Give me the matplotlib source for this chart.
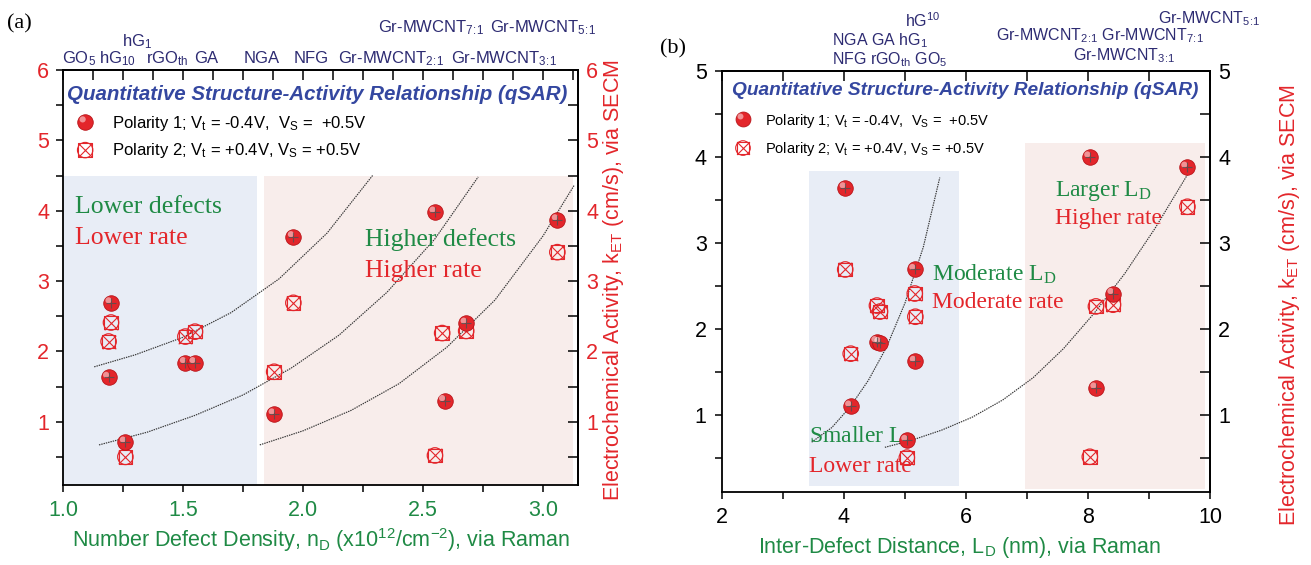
import numpy as np
import matplotlib
matplotlib.use("Agg")
import matplotlib.pyplot as plt
from matplotlib.transforms import ScaledTranslation
from matplotlib.ticker import MultipleLocator, FixedLocator

plt.rcParams['font.family'] = ['Liberation Sans', 'DejaVu Sans']
plt.rcParams['mathtext.default'] = 'regular'

RED = '#e3262b'
GREEN = '#1f8a45'
TITLE_BLUE = '#3447a0'
NAVY = '#2d2b72'
FIT_GRAY = '#363636'
BLUE_BG = '#e8edf6'
PINK_BG = '#f8edeb'
SERIF = ['Liberation Serif', 'DejaVu Serif']

# ---------------- data: panel (a), defect density ----------------
nd_pol1 = [1.19, 1.20, 1.26, 1.51, 1.55, 1.96, 1.88, 2.55, 2.59, 2.68, 3.06]
ket_a_pol1 = [1.63, 2.69, 0.71, 1.84, 1.84, 3.63, 1.11, 3.98, 1.30, 2.40, 3.87]
nd_pol2 = [1.20, 1.19, 1.26, 1.51, 1.55, 1.96, 1.88, 2.55, 2.58, 2.68, 3.06]
ket_a_pol2 = [2.41, 2.14, 0.50, 2.21, 2.28, 2.69, 1.71, 0.52, 2.26, 2.29, 3.41]

# exponential-growth fit curves, panel (a)
fit_a1_x = [1.13, 1.30, 1.50, 1.70, 1.90, 2.10, 2.29]
fit_a1_y = [1.78, 1.95, 2.20, 2.55, 3.03, 3.68, 4.50]
fit_a2_x = [1.15, 1.35, 1.55, 1.75, 1.95, 2.15, 2.35, 2.55, 2.73]
fit_a2_y = [0.67, 0.85, 1.09, 1.38, 1.76, 2.23, 2.84, 3.60, 4.48]
fit_a3_x = [1.82, 2.00, 2.20, 2.40, 2.60, 2.80, 3.00, 3.13]
fit_a3_y = [0.67, 0.87, 1.16, 1.54, 2.06, 2.73, 3.64, 4.36]

# ---------------- data: panel (b), inter-defect distance ----------------
ld_pol1 = [4.02, 5.16, 4.54, 4.59, 5.17, 4.11, 5.03, 8.13, 8.03, 9.62, 8.41]
ket_b_pol1 = [3.64, 2.69, 1.85, 1.84, 1.62, 1.10, 0.70, 1.31, 4.00, 3.88, 2.41]
ld_pol2 = [4.02, 4.54, 4.59, 5.16, 5.17, 4.11, 5.03, 8.03, 8.13, 8.41, 9.63]
ket_b_pol2 = [2.69, 2.27, 2.20, 2.41, 2.14, 1.71, 0.50, 0.51, 2.26, 2.28, 3.42]

fit_b1_x = [3.47, 3.80, 4.10, 4.40, 4.70, 5.00, 5.30, 5.57]
fit_b1_y = [0.68, 0.85, 1.09, 1.40, 1.79, 2.30, 2.95, 3.76]
fit_b2_x = [4.67, 5.10, 5.60, 6.10, 6.60, 7.10, 7.60, 8.10, 8.60, 9.10, 9.67]
fit_b2_y = [0.62, 0.70, 0.82, 0.97, 1.17, 1.43, 1.77, 2.18, 2.64, 3.17, 3.84]

# material labels above each panel: (text, x in data units, y in axes fraction)
R21 = r'$_{2\!:\!1}$'
R31 = r'$_{3\!:\!1}$'
R71 = r'$_{7\!:\!1}$'
R51 = r'$_{5\!:\!1}$'
top_labels_a = [
    (r'GO$_5$', 0.996, 1.017), (r'hG$_{10}$', 1.150, 1.017), (r'hG$_1$', 1.245, 1.058),
    (r'rGO$_{th}$', 1.346, 1.017), ('GA', 1.546, 1.017), ('NGA', 1.754, 1.017),
    ('NFG', 1.962, 1.017), ('Gr-MWCNT' + R21, 2.146, 1.017),
    ('Gr-MWCNT' + R31, 2.616, 1.017), ('Gr-MWCNT' + R71, 2.312, 1.092),
    ('Gr-MWCNT' + R51, 2.78, 1.092),
]
top_labels_b = [
    (r'hG$^{10}$', 5.00, 1.105), (r'NGA GA hG$_1$', 3.80, 1.062),
    (r'NFG rGO$_{th}$ GO$_5$', 3.80, 1.017),
    ('Gr-MWCNT' + R21 + ' Gr-MWCNT' + R71, 6.50, 1.074),
    ('Gr-MWCNT' + R31, 7.76, 1.026),
    ('Gr-MWCNT' + R51, 9.15, 1.114),
]

W, H = 1311, 565
fig = plt.figure(figsize=(W / 100, H / 100), dpi=100)
fig.patch.set_facecolor('white')

ax_a = fig.add_axes([63 / W, (H - 485) / H, 515 / W, 415 / H])
ax_b = fig.add_axes([722 / W, (H - 492) / H, 488 / W, 421 / H])


def draw_balls(ax, x, y, size=125):
    ax.scatter(x, y, s=size, c=RED, edgecolors='#b81419', linewidths=0.6, zorder=5)
    shine = ax.transData + ScaledTranslation(-1.8 / 72, 1.8 / 72, fig.dpi_scale_trans)
    ax.scatter(x, y, s=size * 0.16, c='white', alpha=0.5, edgecolors='none',
               transform=shine, zorder=6)
    ax.scatter(x, y, s=size * 0.35, marker='+', c='#505050', linewidths=0.8,
               alpha=0.8, zorder=7)


def draw_crosses(ax, x, y, size=95):
    ax.scatter(x, y, s=size, marker='s', facecolors='none', edgecolors=RED,
               linewidths=0.8, zorder=5)
    ax.scatter(x, y, s=size, marker='x', c=RED, linewidths=0.8, zorder=5)
    ax.scatter(x, y, s=size * 1.3, marker='o', facecolors='none', edgecolors=RED,
               linewidths=0.9, zorder=5)


def legend_block(ax, title, title_xy, title_size, rows, marker_x, text_x, text_size,
                 ball_size, cross_size):
    ax.text(title_xy[0], title_xy[1], title, transform=ax.transAxes, color=TITLE_BLUE,
            fontsize=title_size, fontweight='bold', fontstyle='italic', va='baseline',
            zorder=8)
    (y1m, y1t, txt1), (y2m, y2t, txt2) = rows
    ax.scatter([marker_x], [y1m], s=ball_size, c=RED, edgecolors='#b81419',
               linewidths=0.6, transform=ax.transAxes, zorder=8, clip_on=False)
    shine = ax.transAxes + ScaledTranslation(-1.8 / 72, 1.8 / 72, fig.dpi_scale_trans)
    ax.scatter([marker_x], [y1m], s=ball_size * 0.16, c='white', alpha=0.5,
               edgecolors='none', transform=shine, zorder=9, clip_on=False)
    for mk, ss in (('s', cross_size), ('x', cross_size), ('o', cross_size * 1.3)):
        if mk == 'x':
            ax.scatter([marker_x], [y2m], s=ss, marker=mk, c=RED, linewidths=0.8,
                       transform=ax.transAxes, zorder=8, clip_on=False)
        else:
            ax.scatter([marker_x], [y2m], s=ss, marker=mk, facecolors='none',
                       edgecolors=RED, linewidths=0.8, transform=ax.transAxes,
                       zorder=8, clip_on=False)
    ax.text(text_x, y1t, txt1, transform=ax.transAxes, fontsize=text_size,
            va='baseline', zorder=8)
    ax.text(text_x, y2t, txt2, transform=ax.transAxes, fontsize=text_size,
            va='baseline', zorder=8)


fit_style = dict(color=FIT_GRAY, lw=0.85, ls=(0, (1.2, 0.8)), zorder=3)

# ======================= panel (a) =======================
ax = ax_a
ax.set_xlim(1.0, 3.146)
ax.set_ylim(0.1, 6.0)
ax.fill_between([1.0, 1.81], 0.1, 4.5, color=BLUE_BG, lw=0, zorder=0)
ax.fill_between([1.837, 3.125], 0.1, 4.5, color=PINK_BG, lw=0, zorder=0)
ax.plot(fit_a1_x, fit_a1_y, **fit_style)
ax.plot(fit_a2_x, fit_a2_y, **fit_style)
ax.plot(fit_a3_x, fit_a3_y, **fit_style)
draw_crosses(ax, nd_pol2, ket_a_pol2)
draw_balls(ax, nd_pol1, ket_a_pol1)

ax.text(1.05, 3.96, 'Lower defects', color=GREEN, family=SERIF, fontsize=18.5)
ax.text(1.05, 3.52, 'Lower rate', color=RED, family=SERIF, fontsize=18.5)
ax.text(2.26, 3.50, 'Higher defects', color=GREEN, family=SERIF, fontsize=18.5)
ax.text(2.26, 3.06, 'Higher rate', color=RED, family=SERIF, fontsize=18.5)

legend_block(ax, 'Quantitative Structure-Activity Relationship (qSAR)', (0.008, 0.928), 14.8,
             [(0.875, 0.860, r'Polarity 1; V$_t$ = -0.4V,  V$_S$ =  +0.5V'),
              (0.807, 0.795, r'Polarity 2; V$_t$ = +0.4V, V$_S$ = +0.5V')],
             0.043, 0.095, 12, 125, 95)

ax.set_xticks([1.0, 1.5, 2.0, 2.5, 3.0])
ax.set_xticklabels(['1.0', '1.5', '2.0', '2.5', '3.0'])
ax.xaxis.set_minor_locator(MultipleLocator(0.25))
ax.set_yticks([1, 2, 3, 4, 5, 6])
ax.yaxis.set_minor_locator(MultipleLocator(0.5))
ax.tick_params(axis='x', which='both', direction='out', length=5, width=1.1,
               labelsize=15.5, labelcolor=GREEN, pad=6)
ax.tick_params(axis='y', which='both', direction='out', length=5, width=1.1,
               labelsize=15.5, labelcolor=RED, pad=5)
sec_top = ax.secondary_xaxis('top')
sec_top.xaxis.set_major_locator(FixedLocator(np.arange(1.0, 3.13, 0.125)))
sec_top.tick_params(direction='in', length=7, width=1.1, labeltop=False)
sec_right = ax.secondary_yaxis('right')
sec_right.set_yticks([1, 2, 3, 4, 5, 6])
sec_right.yaxis.set_minor_locator(MultipleLocator(0.5))
sec_right.tick_params(which='both', direction='in', length=7, width=1.1,
                      labelsize=15.5, labelcolor=RED, pad=6)
for sp in list(ax.spines.values()) + [sec_top.spines['top'], sec_right.spines['right']]:
    sp.set_linewidth(1.3)

for txt, xx, yy in top_labels_a:
    ax.text(xx, yy, txt, transform=ax.get_xaxis_transform(), color=NAVY,
            fontsize=12, va='baseline', ha='left', clip_on=False)

# ======================= panel (b) =======================
ax = ax_b
ax.set_xlim(2.0, 10.0)
ax.set_ylim(0.1, 5.0)
ax.fill_between([3.43, 5.89], 0.17, 3.84, color=BLUE_BG, lw=0, zorder=0)
ax.fill_between([6.97, 9.92], 0.14, 4.16, color=PINK_BG, lw=0, zorder=0)
ax.plot(fit_b1_x, fit_b1_y, **fit_style)
ax.plot(fit_b2_x, fit_b2_y, **fit_style)
draw_crosses(ax, ld_pol2, ket_b_pol2)
draw_balls(ax, ld_pol1, ket_b_pol1)

ax.text(7.46, 3.55, r'Larger L$_D$', color=GREEN, family=SERIF, fontsize=17)
ax.text(7.46, 3.22, 'Higher rate', color=RED, family=SERIF, fontsize=17)
ax.text(5.44, 2.56, r'Moderate L$_D$', color=GREEN, family=SERIF, fontsize=17)
ax.text(5.44, 2.24, 'Moderate rate', color=RED, family=SERIF, fontsize=17)
ax.text(3.43, 0.67, r'Smaller L$_D$', color=GREEN, family=SERIF, fontsize=17)
ax.text(3.43, 0.33, 'Lower rate', color=RED, family=SERIF, fontsize=17)

legend_block(ax, 'Quantitative Structure-Activity Relationship (qSAR)', (0.02, 0.943), 13.8,
             [(0.886, 0.872, r'Polarity 1; V$_t$ = -0.4V,  V$_S$ =  +0.5V'),
              (0.817, 0.805, r'Polarity 2; V$_t$ = +0.4V, V$_S$ = +0.5V')],
             0.043, 0.088, 10.5, 115, 85)

ax.set_xticks([2, 4, 6, 8, 10])
ax.xaxis.set_minor_locator(MultipleLocator(1))
ax.set_yticks([1, 2, 3, 4, 5])
ax.yaxis.set_minor_locator(MultipleLocator(0.5))
ax.tick_params(axis='both', which='both', direction='out', length=5, width=1.1,
               labelsize=15.5, pad=6)
sec_top_b = ax.secondary_xaxis('top')
sec_top_b.xaxis.set_major_locator(FixedLocator(np.arange(2, 11, 1)))
sec_top_b.tick_params(direction='in', length=7, width=1.1, labeltop=False)
sec_right_b = ax.secondary_yaxis('right')
sec_right_b.set_yticks([1, 2, 3, 4, 5])
sec_right_b.yaxis.set_minor_locator(MultipleLocator(0.5))
sec_right_b.tick_params(which='both', direction='in', length=7, width=1.1,
                        labelsize=15.5, pad=6)
for sp in list(ax.spines.values()) + [sec_top_b.spines['top'], sec_right_b.spines['right']]:
    sp.set_linewidth(1.3)

for txt, xx, yy in top_labels_b:
    ax.text(xx, yy, txt, transform=ax.get_xaxis_transform(), color=NAVY,
            fontsize=11.5, va='baseline', ha='left', clip_on=False)

# ---------------- axis titles and panel tags ----------------
fig.text(321 / W, (H - 547) / H,
         r'Number Defect Density, n$_D$ (x10$^{12}$/cm$^{\mathregular{-2}}$), via Raman',
         color=GREEN, fontsize=15.5, ha='center', va='baseline')
fig.text(959 / W, (H - 553) / H, r'Inter-Defect Distance, L$_D$ (nm), via Raman',
         color=GREEN, fontsize=15.5, ha='center', va='baseline')
fig.text(613 / W, (H - 280) / H, r'Electrochemical Activity, k$_{ET}$ (cm/s), via SECM',
         color=RED, fontsize=15.5, rotation=90, ha='center', va='center')
fig.text(1290 / W, (H - 305) / H, r'Electrochemical Activity, k$_{ET}$ (cm/s), via SECM',
         color=RED, fontsize=15.5, rotation=90, ha='center', va='center')
fig.text(7 / W, (H - 28) / H, '(a)', family=SERIF, fontsize=16, va='baseline')
fig.text(660 / W, (H - 53) / H, '(b)', family=SERIF, fontsize=16, va='baseline')

fig.savefig('out.png', dpi=100)
